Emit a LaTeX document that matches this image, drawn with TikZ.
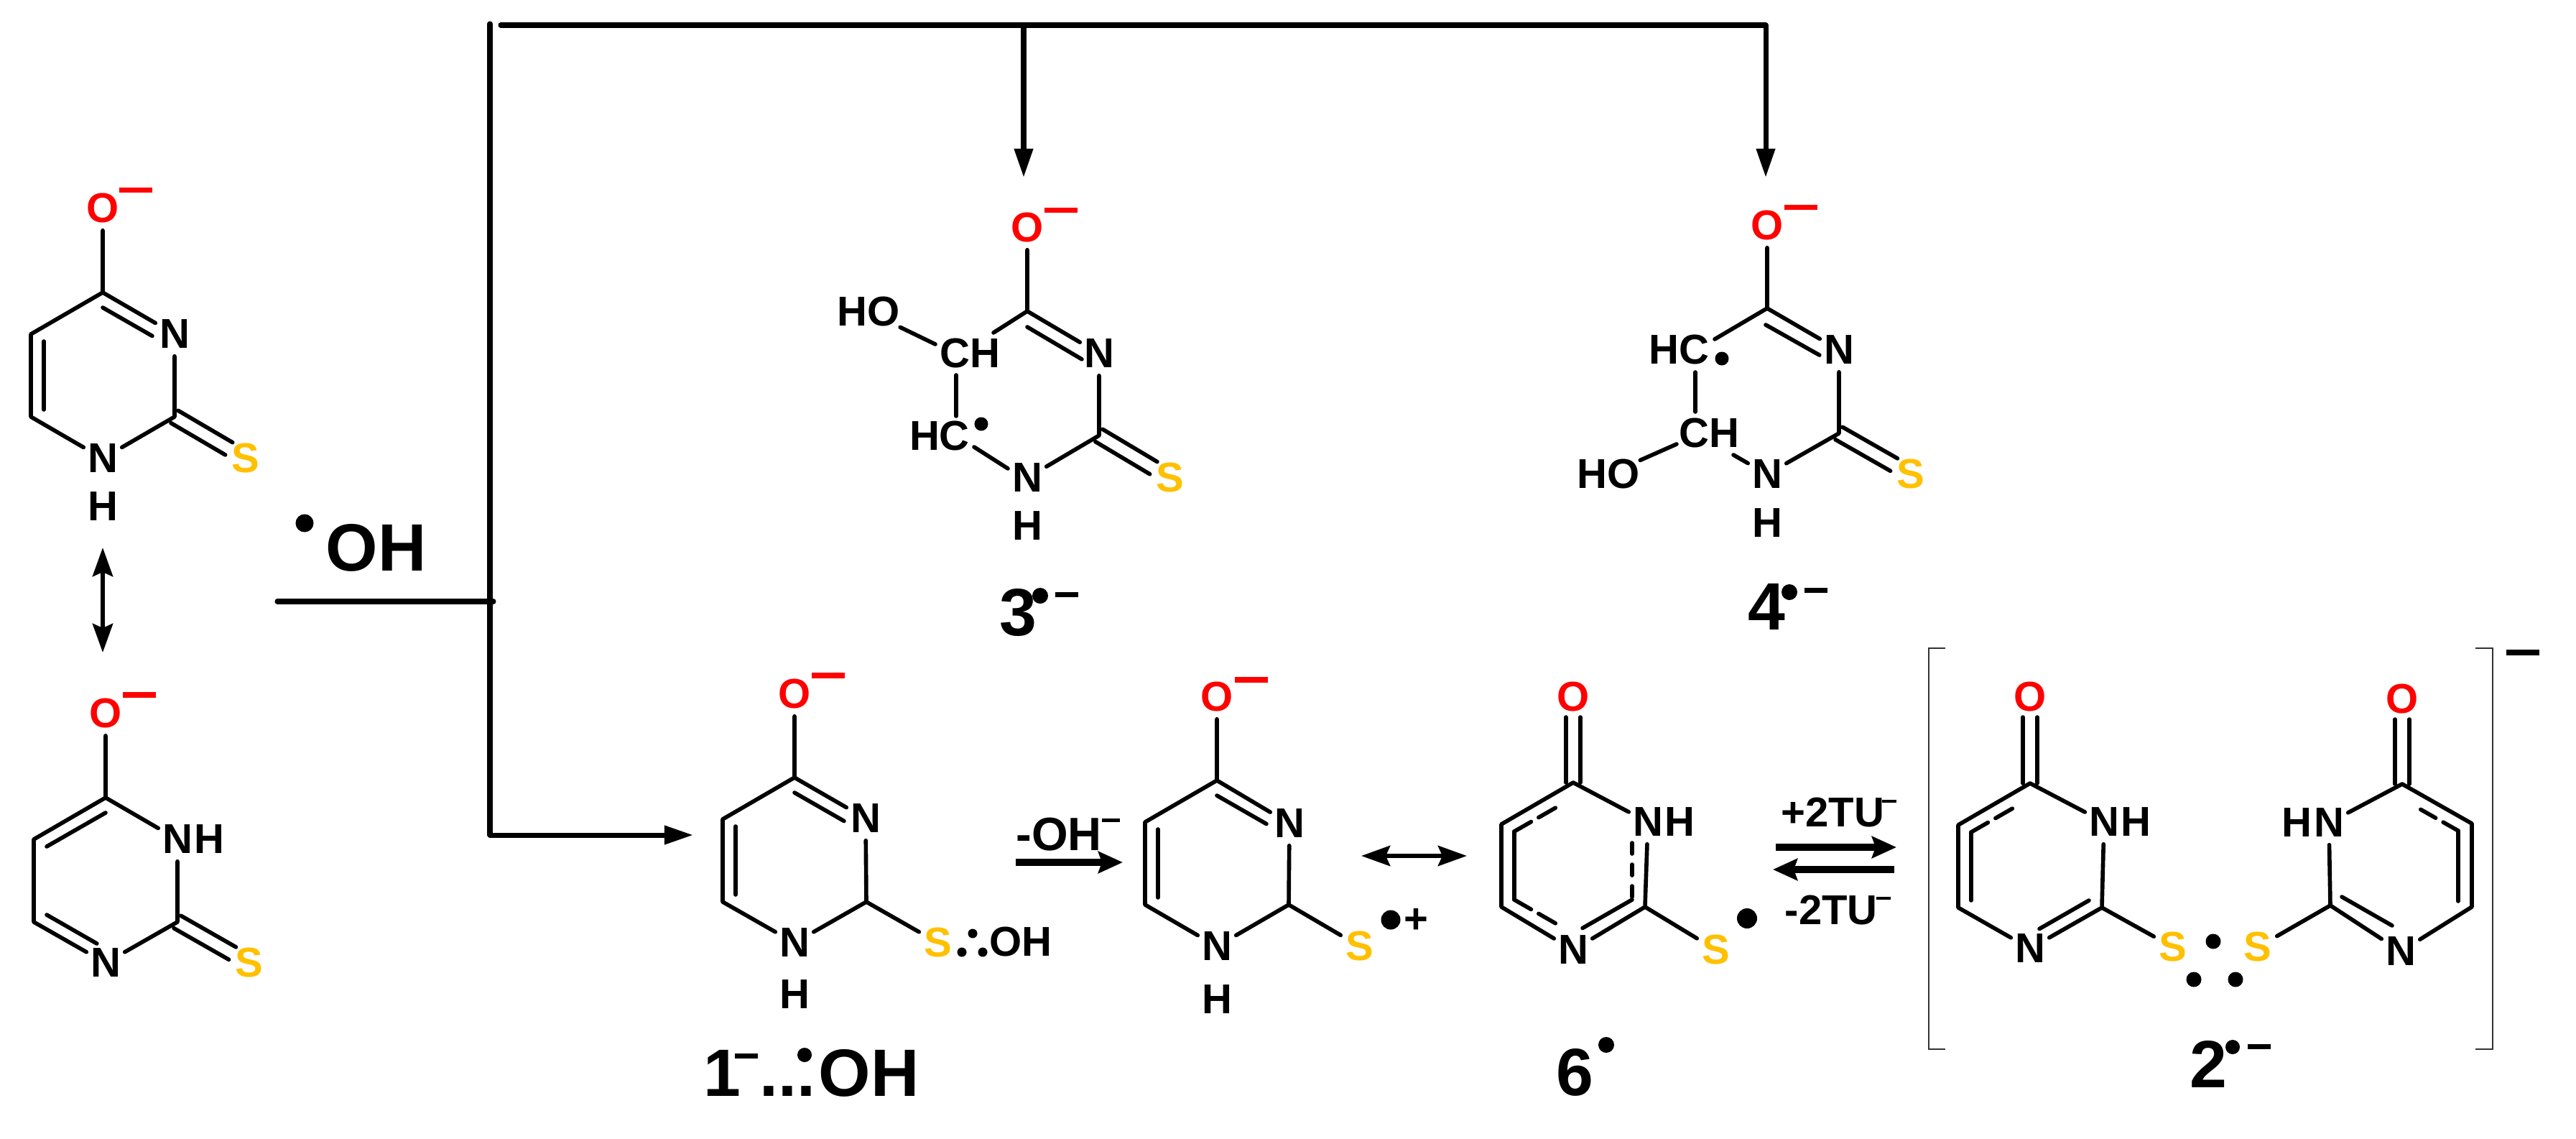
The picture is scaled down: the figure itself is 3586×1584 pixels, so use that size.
\documentclass[tikz,border=0pt]{standalone}
\usepackage{fontspec}
\setmainfont{Liberation Sans}
\usetikzlibrary{calc,positioning,arrows.meta}

\colorlet{oxygencolor}{red}
\definecolor{sulfurcolor}{RGB}{255,192,0}

\tikzset{
    bond/.style={line width=1.6pt,line cap=round,line join=round},
    dashed bond/.style={bond,dash pattern=on 0.27cm off 0.12cm},
    thinbracket/.style={line width=0.8pt,draw=black!80},
    path line/.style={line width=2pt,line cap=round,line join=miter},
    fat line/.style={line width=2.6pt},
    tip/.style={-{Triangle[length=0.4cm,width=0.25cm]}},
    tips/.style={line width=1.8pt,{Stealth[length=0.4cm,width=0.28cm,inset=0.06cm]}-{Stealth[length=0.4cm,width=0.28cm,inset=0.06cm]}},
    fat tip/.style={-{Stealth[length=0.34cm,width=0.3cm,inset=0.05cm]}},
    atom/.style={inner sep=0pt,minimum width=0.52cm,minimum height=0.6cm,font=\fontsize{16.5}{18}\selectfont\bfseries},
    oxy/.style={atom,text=oxygencolor},
    sulfur/.style={atom,text=sulfurcolor},
    tag/.style={inner sep=0pt,font=\fontsize{26.5}{30}\selectfont\bfseries},
    small tag/.style={inner sep=0pt,font=\fontsize{16.5}{18}\selectfont\bfseries},
    radical/.style={circle,fill=black,inner sep=0pt,minimum size=#1},
    radical/.default=0.19cm,
    charge/.style={fill=#1,inner sep=0pt,minimum width=0.46cm,minimum height=0.07cm},
    charge/.default=oxygencolor,
}

% ring corners, from the C4 corner; inner corners carry the second lines
\newcommand{\ringframe}[3]{%
    \coordinate (#1-c4) at (#2,#3);
    \coordinate (#1-c5) at ($(#1-c4)+(-100,58)$);
    \coordinate (#1-c6) at ($(#1-c4)+(-100,173)$);
    \coordinate (#1-c2) at ($(#1-c4)+(100,173)$);
    \coordinate (#1-i4) at ($(#1-c4)+(0,21)$);
    \coordinate (#1-i5) at ($(#1-c4)+(-82,68)$);
    \coordinate (#1-i6) at ($(#1-c4)+(-82,163)$);
    \coordinate (#1-i2) at ($(#1-c4)+(82,163)$);
    \coordinate (#1-i3) at ($(#1-c4)+(82,68)$);
    \coordinate (#1-i1) at ($(#1-c4)+(0,210)$);
}
% second line of a double bond outside the ring
\newcommand{\bondpair}[4]{%
    \draw[bond,shorten <=#3,shorten >=#4] ($(#1)!0.1cm!90:(#2)$) -- ($(#2)!0.1cm!-90:(#1)$);
    \draw[bond,shorten <=#3,shorten >=#4] ($(#1)!0.1cm!-90:(#2)$) -- ($(#2)!0.1cm!90:(#1)$);
}

\begin{document}
\begin{tikzpicture}[x=0.01cm,y=-0.01cm]
    \useasboundingbox (0,0) rectangle (3586,1584);

  % top left, thione with NH at the bottom
    \ringframe{a}{143}{407}
    \node[oxy] (a-o) at (143,290) {O};
    \node[charge,anchor=west,yshift=0.25cm] (a-q) at (165,290) {};
    \node[atom] (a-n3) at (243,465) {N};
    \node[atom] (a-n1) at (143,638) {N};
    \node[atom] (a-h) at (143,705) {H};
    \node[sulfur] (a-s) at (342,638) {S};
    \draw[bond] (a-o) -- (a-c4) -- (a-n3) -- (a-c2) -- (a-n1) -- (a-c6) -- (a-c5) -- (a-c4);
    \draw[bond,shorten >=0.15cm] (a-i4) -- (a-i3);
    \draw[bond] (a-i5) -- (a-i6);
    \bondpair{a-c2}{a-s}{0pt}{0.27cm}

  % bottom left
    \ringframe{b}{147}{1110}
    \node[oxy] (b-o) at (147,993) {O};
    \node[charge,anchor=west,yshift=0.26cm] (b-q) at (170,993) {};
    \node[atom] (b-n3) at (247,1168) {N};
    \node[atom,right=-0.09cm of b-n3] (b-h) {H};
    \node[atom] (b-n1) at (147,1340) {N};
    \node[sulfur] (b-s) at (347,1340) {S};
    \draw[bond] (b-o) -- (b-c4) -- (b-n3) -- (b-c2) -- (b-n1) -- (b-c6) -- (b-c5) -- (b-c4);
    \draw[bond] (b-i4) -- (b-i5);
    \draw[bond,shorten >=0.14cm] (b-i6) -- (b-i1);
    \bondpair{b-c2}{b-s}{0pt}{0.27cm}

    \coordinate (res-up) at (143,762);
    \coordinate (res-down) at (143,908);
    \draw[tips] (res-up) -- (res-down);

  % reagent and the branching lines
    \node[tag,anchor=west] (oh-text) at (453,762) {OH};
    \node[radical=0.25cm] (oh-dot) at (424,728) {};
    \coordinate (feed) at (386,837);
    \coordinate (hub) at (687,837);
    \coordinate (top-left) at (682,33);
    \coordinate (bot-left) at (682,1162);
    \coordinate (top-start) at (697,35);
    \coordinate (top-right) at (2458,35);
    \coordinate (tip-three) at (1425,247);
    \coordinate (tip-four) at (2458,247);
    \coordinate (tip-one) at (965,1162);
    \draw[path line] (feed) -- (hub);
    \draw[path line] (top-left) -- (bot-left);
    \draw[path line,tip] (bot-left) -- (tip-one);
    \draw[path line] (top-start) -- (top-right);
    \draw[path line,tip] (top-right) -- (tip-four);
    \draw[path line,tip] (tip-three |- top-right) -- (tip-three);

  % molecule 3
    \coordinate (c-c4) at (1430,433);
    \coordinate (c-c2) at (1530,606);
    \node[oxy] (c-o) at (1430,317) {O};
    \node[charge,anchor=west,yshift=0.24cm] (c-q) at (1453,317) {};
    \node[atom] (c-n3) at (1530,492) {N};
    \node[atom] (c-n1) at (1430,665) {N};
    \node[atom] (c-h) at (1430,732) {H};
    \node[sulfur] (c-s) at (1629,665) {S};
    \node[atom] (c-ho) at (1209,434) {HO};
    \node[atom] (c-ch) at (1350,492) {CH};
    \node[atom] (c-hc) at (1308,607) {HC};
    \node[radical] (c-dot) at (1366,590) {};
    \draw[bond] (c-o) -- (c-c4) -- (c-n3) -- (c-c2) -- (c-n1);
    \draw[bond] (c-ho) -- (1302,479);
    \draw[bond] (c-c4) -- (1383,463);
    \draw[bond] (1331,522) -- (1331,579);
    \draw[bond] (1356,622) -- (1403,652);
    \draw[bond,shorten >=0.14cm] (1430,455) -- (1518,507);
    \bondpair{c-c2}{c-s}{0pt}{0.27cm}
    \node[tag] (c-name) at (1417,852) {3};
    \node[radical=0.22cm] (c-namedot) at (1448,829) {};
    \node[charge=black,minimum width=0.32cm] (c-nameq) at (1485,827) {};

  % molecule 4
    \coordinate (d-c4) at (2460,429);
    \coordinate (d-c2) at (2560,603);
    \node[oxy] (d-o) at (2460,314) {O};
    \node[charge,anchor=west,yshift=0.25cm] (d-q) at (2483,314) {};
    \node[atom] (d-n3) at (2560,487) {N};
    \node[atom] (d-n1) at (2460,660) {N};
    \node[atom] (d-h) at (2460,728) {H};
    \node[sulfur] (d-s) at (2660,660) {S};
    \node[atom] (d-hc) at (2337,487) {HC};
    \node[atom] (d-ch) at (2379,603) {CH};
    \node[atom] (d-ho) at (2239,660) {HO};
    \node[radical] (d-dot) at (2397,499) {};
    \draw[bond] (d-o) -- (d-c4) -- (d-n3) -- (d-c2) -- (d-n1);
    \draw[bond] (d-c4) -- (2387,472);
    \draw[bond] (2360,518) -- (2360,573);
    \draw[bond] (2334,618) -- (d-ho);
    \draw[bond] (2413,633) -- (d-n1);
    \draw[bond,shorten >=0.14cm] (2458,452) -- (2545,501);
    \bondpair{d-c2}{d-s}{0pt}{0.27cm}
    \node[tag] (d-name) at (2459,844) {4};
    \node[radical=0.22cm] (d-namedot) at (2491,824) {};
    \node[charge=black,minimum width=0.32cm] (d-nameq) at (2528,821) {};

  % molecule 1 with the OH on sulfur
    \ringframe{e}{1106}{1082}
    \node[oxy] (e-o) at (1106,966) {O};
    \node[charge,anchor=west,yshift=0.26cm] (e-q) at (1129,966) {};
    \node[atom] (e-n3) at (1205,1139) {N};
    \node[atom] (e-n1) at (1106,1312) {N};
    \node[atom] (e-h) at (1106,1384) {H};
    \node[sulfur] (e-s) at (1306,1312) {S};
    \node[radical=0.13cm] (e-dota) at (1354,1299) {};
    \node[radical=0.13cm] (e-dotb) at (1339,1325) {};
    \node[radical=0.13cm] (e-dotc) at (1368,1325) {};
    \node[atom] (e-oh) at (1421,1311) {OH};
    \draw[bond] (e-o) -- (e-c4) -- (e-n3) -- (e-c2) -- (e-n1) -- (e-c6) -- (e-c5) -- (e-c4);
    \draw[bond] (e-c2) -- (e-s);
    \draw[bond,shorten >=0.15cm] (e-i4) -- (e-i3);
    \draw[bond] (e-i5) -- (e-i6);
    \node[tag,anchor=base west] (e-one) at (979,1525) {1};
    \node[charge=black,minimum width=0.32cm] (e-nameq) at (1039,1469) {};
    \node[tag,anchor=base west] (e-dots) at (1057,1525) {...};
    \node[radical=0.2cm] (e-namedot) at (1120,1468) {};
    \node[tag,anchor=base west] (e-oh-name) at (1139,1525) {OH};

    \node[anchor=base west,inner sep=0pt,font=\fontsize{18.5}{22}\selectfont\bfseries] (loss-oh) at (1414,1183) {-OH};
    \node[charge=black,minimum width=0.25cm,minimum height=0.05cm] (loss-q) at (1546,1141) {};
    \coordinate (loss-a) at (1414,1200);
    \coordinate (loss-b) at (1563,1200);
    \draw[fat line,fat tip] (loss-a) -- (loss-b);

  % molecule with S radical cation
    \ringframe{f}{1694}{1086}
    \node[oxy] (f-o) at (1694,970) {O};
    \node[charge,anchor=west,yshift=0.24cm] (f-q) at (1718,970) {};
    \node[atom] (f-n3) at (1795,1146) {N};
    \node[atom] (f-n1) at (1694,1317) {N};
    \node[atom] (f-h) at (1694,1391) {H};
    \node[sulfur] (f-s) at (1893,1317) {S};
    \node[radical=0.27cm] (f-dot) at (1936,1280) {};
    \node[small tag] (f-plus) at (1971,1281) {+};
    \draw[bond] (f-o) -- (f-c4) -- (f-n3) -- (f-c2) -- (f-n1) -- (f-c6) -- (f-c5) -- (f-c4);
    \draw[bond] (f-c2) -- (f-s);
    \draw[bond,shorten >=0.15cm] (f-i4) -- (f-i3);
    \draw[bond] (f-i5) -- (f-i6);

    \coordinate (res-left) at (1895,1191);
    \coordinate (res-right) at (2042,1191);
    \draw[tips] (res-left) -- (res-right);

  % molecule 6
    \ringframe{g}{2190}{1089}
    \node[oxy] (g-o) at (2190,970) {O};
    \node[atom] (g-n3) at (2294,1144) {N};
    \node[atom,right=-0.09cm of g-n3] (g-h) {H};
    \node[atom] (g-n1) at (2190,1322) {N};
    \node[sulfur] (g-s) at (2389,1322) {S};
    \node[radical=0.28cm] (g-dot) at (2432,1278) {};
    \draw[bond] (g-c4) -- (g-n3) -- (g-c2) -- (g-n1) -- (g-c6) -- (g-c5) -- (g-c4);
    \draw[bond] (g-c2) -- (g-s);
    \bondpair{g-c4}{g-o}{0pt}{0.28cm}
    \draw[bond] (g-i5) -- (g-i6);
    \draw[dashed bond,shorten >=0.27cm] (g-i5) -- (g-i4);
    \draw[dashed bond,shorten >=0.25cm] (g-i6) -- (g-i1);
    \draw[bond,dash pattern=on 0.15cm off 0.15cm,shorten <=0.16cm] (g-i3) -- (g-i2);
    \draw[bond,shorten >=0.15cm] (g-i2) -- (g-i1);

    \coordinate (eq-a) at (2472,1179);
    \coordinate (eq-b) at (2640,1179);
    \coordinate (eq-c) at (2637,1210);
    \coordinate (eq-d) at (2468,1210);
    \draw[fat line,fat tip] (eq-a) -- (eq-b);
    \draw[fat line,fat tip] (eq-c) -- (eq-d);
    \node[small tag,anchor=west] (eq-up) at (2479,1131) {+2TU};
    \node[charge=black,minimum width=0.2cm,minimum height=0.04cm] (eq-upq) at (2630,1115) {};
    \node[small tag,anchor=west] (eq-down) at (2484,1267) {-2TU};
    \node[charge=black,minimum width=0.2cm,minimum height=0.04cm] (eq-downq) at (2622,1250) {};

  % dimer in brackets
    \coordinate (br-a) at (2708,902);
    \coordinate (br-b) at (2685,902);
    \coordinate (br-c) at (2685,1460);
    \coordinate (br-d) at (2708,1460);
    \coordinate (br-e) at (3446,902);
    \coordinate (br-f) at (3470,902);
    \coordinate (br-g) at (3470,1460);
    \coordinate (br-h) at (3446,1460);
    \draw[thinbracket] (br-a) -- (br-b) -- (br-c) -- (br-d);
    \draw[thinbracket] (br-e) -- (br-f) -- (br-g) -- (br-h);
    \node[charge=black,minimum height=0.08cm] (br-q) at (3512,908) {};

    \ringframe{h}{2826}{1090}
    \node[oxy] (h-o) at (2826,970) {O};
    \node[atom] (h-n3) at (2929,1144) {N};
    \node[atom,right=-0.09cm of h-n3] (h-h) {H};
    \node[atom] (h-n1) at (2826,1320) {N};
    \node[sulfur] (h-s) at (3025,1318) {S};
    \draw[bond] (h-c4) -- (h-n3) -- (h-c2) -- (h-n1) -- (h-c6) -- (h-c5) -- (h-c4);
    \draw[bond] (h-c2) -- (h-s);
    \bondpair{h-c4}{h-o}{0pt}{0.28cm}
    \draw[bond] (h-i5) -- (h-i6);
    \draw[dashed bond,shorten >=0.27cm] (h-i5) -- (h-i4);
    \draw[bond,shorten >=0.15cm] (h-i2) -- (h-i1);

    \coordinate (k-c4) at (3344,1091);
    \coordinate (k-c5) at (3441,1146);
    \coordinate (k-c6) at (3441,1262);
    \coordinate (k-c2) at (3244,1260);
    \coordinate (k-i5) at (3422,1156);
    \coordinate (k-i6) at (3422,1254);
    \coordinate (k-i4) at (3369,1126);
    \coordinate (k-i2) at (3260,1248);
    \coordinate (k-i1) at (3330,1288);
    \node[oxy] (k-o) at (3344,973) {O};
    \node[atom] (k-n3) at (3242,1145) {N};
    \node[atom,left=-0.09cm of k-n3] (k-h) {H};
    \node[atom] (k-n1) at (3342,1324) {N};
    \node[sulfur] (k-s) at (3143,1318) {S};
    \draw[bond] (k-c4) -- (k-n3) -- (k-c2) -- (k-n1) -- (k-c6) -- (k-c5) -- (k-c4);
    \draw[bond] (k-c2) -- (k-s);
    \bondpair{k-c4}{k-o}{0pt}{0.28cm}
    \draw[bond] (k-i5) -- (k-i6);
    \draw[bond,dash pattern=on 0.24cm off 0.12cm] (k-i5) -- (k-i4);
    \draw[bond] (k-i2) -- (k-i1);

    \node[radical=0.21cm] (dot-a) at (3081,1310) {};
    \node[radical=0.21cm] (dot-b) at (3054,1363) {};
    \node[radical=0.21cm] (dot-c) at (3112,1363) {};

    \node[tag] (g-name) at (2192,1492) {6};
    \node[radical=0.22cm] (g-namedot) at (2236,1454) {};
    \node[tag] (h-name) at (3074,1481) {2};
    \node[radical=0.2cm] (h-namedot) at (3108,1457) {};
    \node[charge=black,minimum width=0.32cm] (h-nameq) at (3145,1456) {};
\end{tikzpicture}
\end{document}
